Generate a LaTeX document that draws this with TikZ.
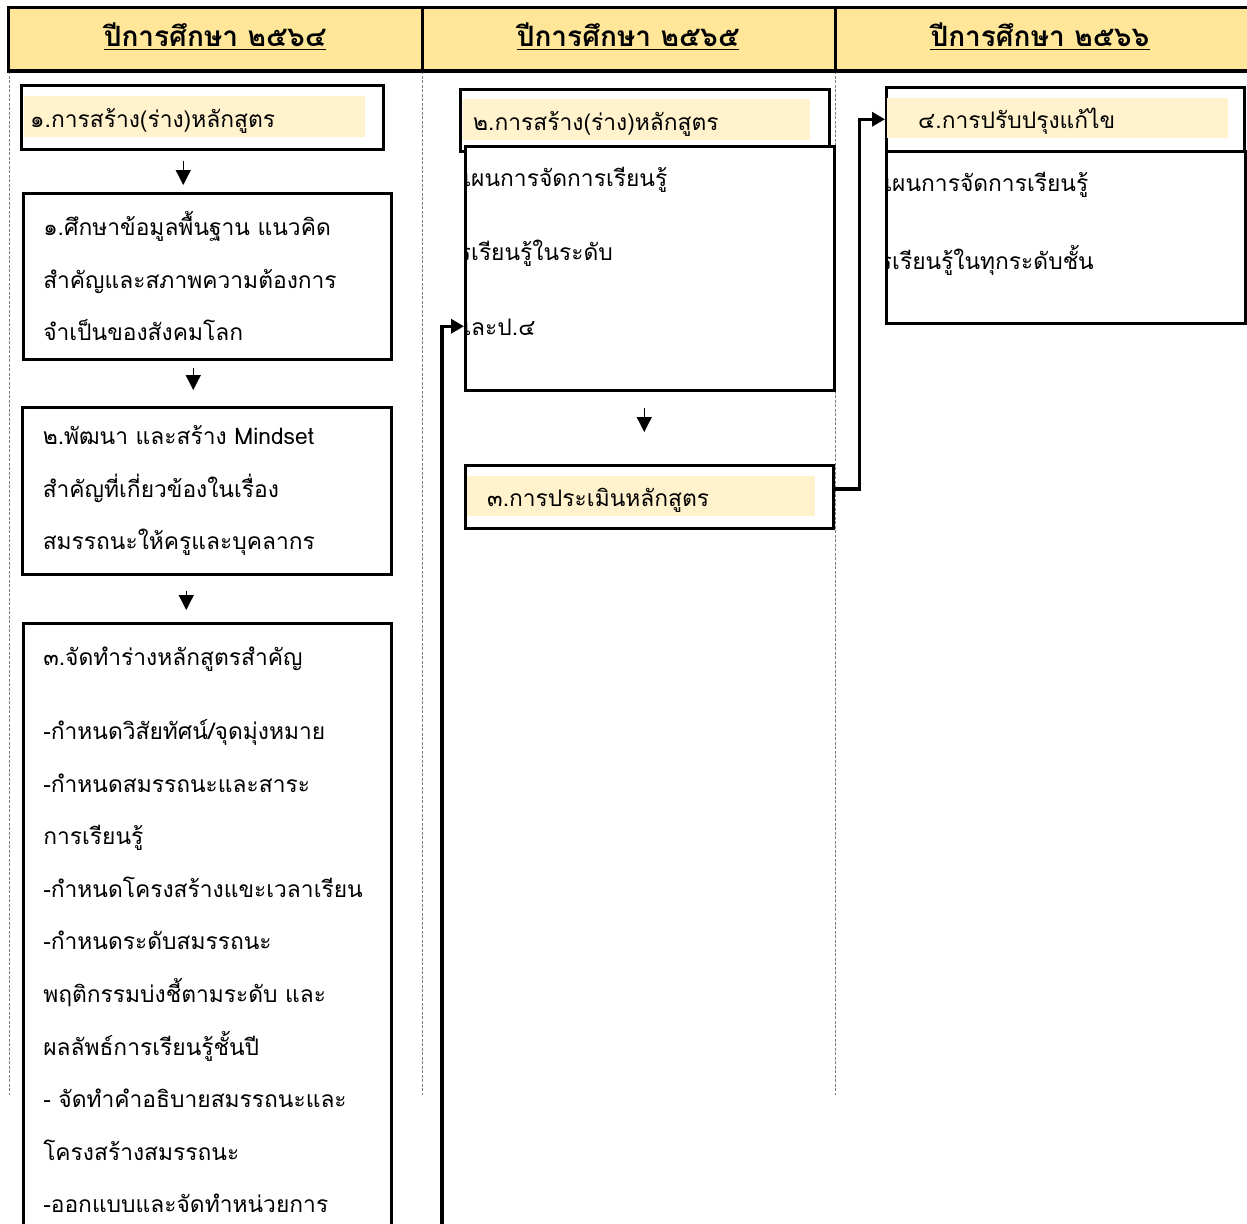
\documentclass[tikz,border=0pt]{standalone}
\usepackage{fontspec}
\setmainfont[Script=Thai]{Loma}
\usepackage{xcolor}
\usetikzlibrary{positioning,arrows.meta,calc}
\definecolor{headgold}{RGB}{255,230,153}
\definecolor{labelcream}{RGB}{255,242,204}

\begin{document}
\begin{tikzpicture}[
  x=1pt, y=-1pt,
  bodyfont/.style={font=\fontsize{22.8pt}{52.6pt}\selectfont},
  yearhead/.style={font=\fontsize{28pt}{30pt}\selectfont\bfseries, inner sep=0pt},
  headbar/.style={draw=black, line width=3pt, fill=headgold},
  colsep/.style={draw=gray, line width=0.8pt, dash pattern=on 3pt off 1.5pt},
  stepbox/.style={draw=black, line width=2.5pt, fill=white, anchor=north west, inner sep=0pt},
  textbox/.style={stepbox, bodyfont, align=left, inner xsep=20pt, text width=328pt},
  titlefill/.style={fill=labelcream, anchor=north west, bodyfont, align=left, inner ysep=0pt, text depth=10pt},
  cliptext/.style={bodyfont, anchor=west, inner sep=0pt},
  flow/.style={-{Triangle[length=15pt,width=15pt]}, line width=1.3pt},
  link/.style={-{Triangle[length=13pt,width=14pt]}, line width=3.5pt}
]
\useasboundingbox (0,0) rectangle (1247,1223);

% column separators
\draw[colsep] (9,71) -- (9,1095);
\draw[colsep] (422,71) -- (422,1095);
\draw[colsep] (835,71) -- (835,1095);

% year header
\draw[headbar] (8,8) rectangle (1262,71);
\draw[line width=3pt] (422,8) -- (422,71);
\draw[line width=3pt] (835,8) -- (835,71);
\node[yearhead] (y1) at (215,35) {ปีการศึกษา ๒๕๖๔};
\node[yearhead] (y2) at (628,35) {ปีการศึกษา ๒๕๖๕};
\node[yearhead] (y3) at (1040,35) {ปีการศึกษา ๒๕๖๖};
\draw[line width=1.3pt] ([yshift=-3pt]y1.base west) -- ([yshift=-3pt]y1.base east);
\draw[line width=1.3pt] ([yshift=-3pt]y2.base west) -- ([yshift=-3pt]y2.base east);
\draw[line width=1.3pt] ([yshift=-3pt]y3.base west) -- ([yshift=-3pt]y3.base east);

% year 2564
\node[stepbox, minimum width=362pt, minimum height=64pt] (t1) at (20,84) {};
\node[titlefill, text height=31pt, text width=329pt, inner xsep=6pt] (t1lab) at (24,96) {๑.การสร้าง(ร่าง)หลักสูตร};
\node[textbox, minimum width=368pt, minimum height=166pt] (s1) at (22,192)
  {๑.ศึกษาข้อมูลพื้นฐาน แนวคิด\\สำคัญและสภาพความต้องการ\\จำเป็นของสังคมโลก};
\node[textbox, minimum width=369pt, minimum height=167pt] (s2) at (21,406)
  {๒.พัฒนา และสร้าง Mindset\\สำคัญที่เกี่ยวข้องในเรื่อง\\สมรรถนะให้ครูและบุคลากร};
\node[textbox, inner ysep=24pt] (s3) at (22,622)
  {๓.จัดทำร่างหลักสูตรสำคัญ\\[21pt]-กำหนดวิสัยทัศน์/จุดมุ่งหมาย\\-กำหนดสมรรถนะและสาระ\\การเรียนรู้\\-กำหนดโครงสร้างแขะเวลาเรียน\\-กำหนดระดับสมรรถนะ\\พฤติกรรมบ่งชี้ตามระดับ และ\\ผลลัพธ์การเรียนรู้ชั้นปี\\- จัดทำคำอธิบายสมรรถนะและ\\โครงสร้างสมรรถนะ\\-ออกแบบและจัดทำหน่วยการ};

% year 2565
\node[stepbox, minimum width=369pt, minimum height=62pt] (t2) at (459,88) {};
\node[titlefill, text height=31pt, text width=327pt, inner xsep=10pt] (t2lab) at (463,99) {๒.การสร้าง(ร่าง)หลักสูตร};
\node[stepbox, minimum width=369pt, minimum height=244pt] (s4) at (464,145) {};
\begin{scope}
  \clip (s4.north west) rectangle (s4.south east);
  \node[cliptext] (s4a) at (471,180) {\llap{แ}ผนการจัดการเรียนรู้};
  \node[cliptext] (s4b) at (471,253) {\llap{ร}เรียนรู้ในระดับ};
  \node[cliptext] (s4c) at (471,327) {\llap{แ}ละป.๔};
\end{scope}
\node[stepbox, minimum width=368pt, minimum height=63pt] (t3) at (464,464) {};
\node[titlefill, text height=30pt, text width=308pt, inner xsep=20pt] (t3lab) at (467,476) {๓.การประเมินหลักสูตร};

% year 2566
\node[stepbox, minimum width=358pt, minimum height=64pt] (t4) at (885,86) {};
\node[titlefill, text height=30pt, text width=279pt, inner xsep=31pt] (t4lab) at (887,98) {๔.การปรับปรุงแก้ไข};
\node[stepbox, minimum width=359pt, minimum height=172pt] (s5) at (885,150) {};
\begin{scope}
  \clip (s5.north west) rectangle (s5.south east);
  \node[cliptext] (s5a) at (892,185) {\llap{แ}ผนการจัดการเรียนรู้};
  \node[cliptext] (s5b) at (892,260) {\llap{ร}เรียนรู้ในทุกระดับชั้น};
\end{scope}

% arrows
\draw[flow, shorten <=10pt, shorten >=7pt] ([xshift=-19pt]t1.south) -- ([xshift=-19pt]t1.south |- s1.north);
\draw[flow, shorten <=7pt, shorten >=16pt] ([xshift=-14pt]s1.south) -- ([xshift=-14pt]s1.south |- s2.north);
\draw[flow, shorten <=15pt, shorten >=12pt] ([xshift=-20.5pt]s2.south) -- ([xshift=-20.5pt]s2.south |- s3.north);
\draw[flow, shorten <=16pt, shorten >=32pt] ([xshift=-5.5pt]s4.south) -- ([xshift=-5.5pt]s4.south |- t3.north);
\draw[link] ([yshift=8pt]t3.east) -- ++(25,0) |- (t4.west);
\coordinate (feed) at (442,1240);
\draw[link] (feed) |- ([yshift=-58pt]s4.west);
\end{tikzpicture}
\end{document}
